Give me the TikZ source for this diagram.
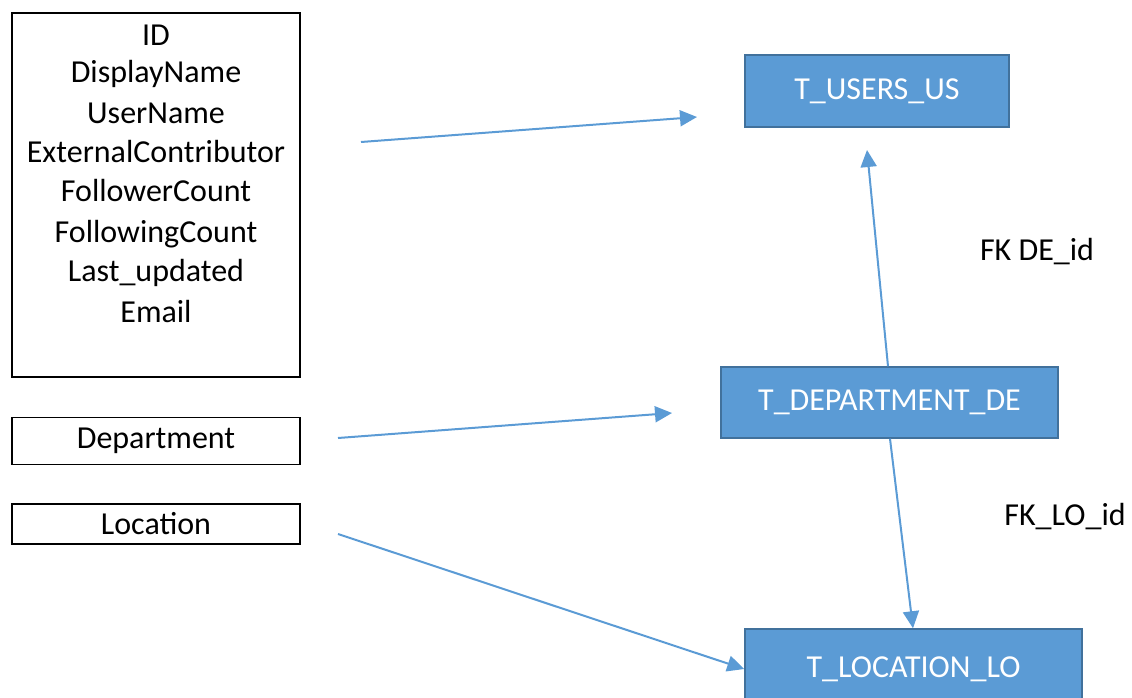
\documentclass[tikz,border=0pt]{standalone}
\usepackage{fontspec}
\setmainfont{Carlito}
\usetikzlibrary{arrows.meta}
\definecolor{tblblue}{HTML}{5B9BD5}
\definecolor{tbledge}{HTML}{41719C}
\tikzset{
  field/.style={draw=black,line width=1.5pt,inner sep=0pt},
  tbl/.style={draw=tbledge,line width=1.5pt,fill=tblblue,text=white,inner sep=0pt,
    font=\fontsize{32}{38}\selectfont},
  link/.style={draw=tblblue,line width=2pt,-{Triangle[length=17pt,width=16pt]}},
}
\begin{document}
\begin{tikzpicture}[x=1pt,y=-1pt,font=\fontsize{32}{38}\selectfont]
  \useasboundingbox (0,0) rectangle (1132,698);
  \clip (0,0) rectangle (1132,698);
  % attributes on the left
  \node[field,minimum width=288pt,minimum height=364pt] (usrbox) at (156,195) {};
  \foreach \y/\t in {35/ID,74/DisplayName,113/UserName,152/ExternalContributor,
      191/FollowerCount,234/FollowingCount,273/Last\_updated,312/Email} {
    \node at (156,\y) {\t};
  }
  \node[field,minimum width=288pt,minimum height=47pt] (depbox) at (156,441) {Department};
  \node[field,minimum width=288pt,minimum height=40pt] (locbox) at (156,524) {Location};
  % tables
  \node[tbl,minimum width=264pt,minimum height=72pt] (users) at (877,91) {T\_USERS\_US};
  \node[tbl,minimum width=337pt,minimum height=71pt] (dept) at (889.5,402.5) {T\_DEPARTMENT\_DE};
  \node[tbl,minimum width=337pt,minimum height=80pt] (loc) at (913.5,669) {T\_LOCATION\_LO};
  \node (fkde) at (1037,252) {FK DE\_id};
  \node (fklo) at (1065,517) {FK\_LO\_id};
  % connectors
  \coordinate (usrfrom) at (361,142);
  \coordinate (usrto) at (697,117);
  \coordinate (depfrom) at (338,438);
  \coordinate (depto) at (672,413);
  \coordinate (locfrom) at (338,534);
  \coordinate (fkup) at (867,150);
  \draw[link] (usrfrom) -- (usrto);
  \draw[link] (depfrom) -- (depto);
  \draw[link] (locfrom) -- (loc.west);
  \draw[link] (dept.north -| 888,0) -- (fkup);
  \draw[link] (dept.south -| 890,0) -- (loc.north -| 913,0);
\end{tikzpicture}
\end{document}
